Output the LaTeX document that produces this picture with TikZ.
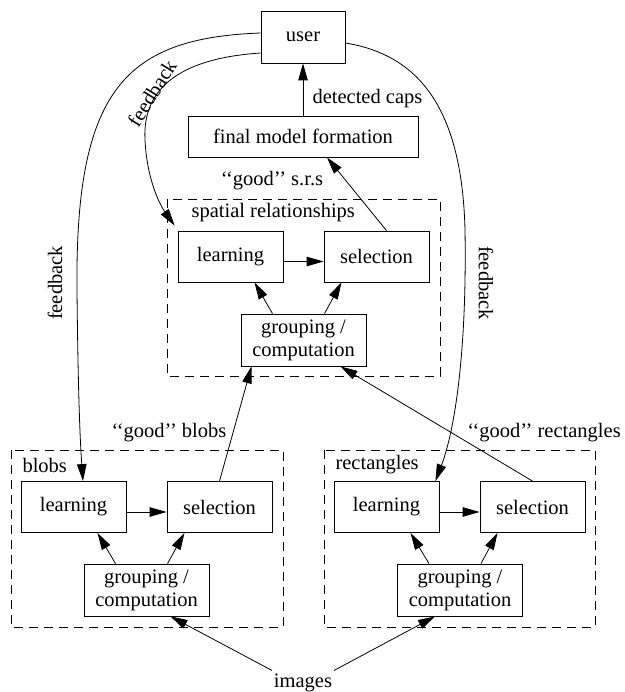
\documentclass[tikz,border=0pt]{standalone}
\usepackage{fontspec}
\setmainfont{Liberation Serif}
\usetikzlibrary{arrows.meta}

\begin{document}
\begin{tikzpicture}[x=1pt,y=-1pt,
  every node/.style={font=\fontsize{20.5}{23}\selectfont},
  box/.style={draw,line width=0.8pt,minimum width=105pt,minimum height=51pt,inner sep=0pt},
  grpbox/.style={draw,line width=0.8pt,minimum width=125pt,minimum height=52pt,inner sep=0pt,align=center},
  frame/.style={draw,dash pattern=on 9pt off 6pt,line width=0.7pt},
  arr/.style={-{Triangle[length=17pt,width=9.5pt]},line width=0.8pt}]
\useasboundingbox (0,0) rectangle (624,692);
% top
\node[draw,line width=0.8pt,minimum width=84pt,minimum height=52pt] (user) at (303,37) {user};
\node[draw,line width=0.8pt,minimum width=230pt,minimum height=41pt] (fmf) at (303,136.5) {final model formation};
\draw[arr] (fmf.north) -- (user.south);
\node[anchor=west] (caps) at (309,99) {detected caps};
% spatial relationships
\draw[frame] (167,199) rectangle (440,376);
\node[anchor=west] (srlab) at (188,213) {spatial relationships};
\node[box] (slearn) at (230.5,256.5) {learning};
\node[box] (ssel) at (376.5,256.5) {selection};
\node[grpbox] (sgrp) at (303.5,340) {grouping /\\computation};
\draw[arr] ([yshift=-5pt]slearn.east) -- ([yshift=-5pt]ssel.west);
\draw[arr] ([xshift=-31pt]sgrp.north) -- ([xshift=24pt]slearn.south);
\draw[arr] ([xshift=21pt]sgrp.north) -- ([xshift=-35pt]ssel.south);
\draw[arr] ([xshift=10pt]ssel.north) -- ([xshift=24pt]fmf.south);
\node (goodsrs) at (272,181) {`{}`good'{}' s.r.s};
% blobs
\draw[frame] (11,450) rectangle (283,627);
\node[anchor=west] (blab) at (19,465) {blobs};
\node[box] (blearn) at (73.5,507) {learning};
\node[box] (bsel) at (219.5,507) {selection};
\node[grpbox] (bgrp) at (146.5,590) {grouping /\\computation};
\draw[arr] ([yshift=-5pt]blearn.east) -- ([yshift=-5pt]bsel.west);
\draw[arr] ([xshift=-31pt]bgrp.north) -- ([xshift=24pt]blearn.south);
\draw[arr] ([xshift=21pt]bgrp.north) -- ([xshift=-35pt]bsel.south);
\draw[arr] (bsel.north) -- ([xshift=-52pt]sgrp.south);
\node (goodblobs) at (169,433) {`{}`good'{}' blobs};
% rectangles
\draw[frame] (324,450) rectangle (595,627);
\node[anchor=west] (rlab) at (332,465) {rectangles};
\node[box] (rlearn) at (386.5,507) {learning};
\node[box] (rsel) at (532.5,507) {selection};
\node[grpbox] (rgrp) at (460,590) {grouping /\\computation};
\draw[arr] ([yshift=-5pt]rlearn.east) -- ([yshift=-5pt]rsel.west);
\draw[arr] ([xshift=-31pt]rgrp.north) -- ([xshift=24pt]rlearn.south);
\draw[arr] ([xshift=21pt]rgrp.north) -- ([xshift=-35pt]rsel.south);
\draw[arr] (rsel.north) -- ([xshift=37pt]sgrp.south);
\node (goodrects) at (544,433) {`{}`good'{}' rectangles};
% images
\node (images) at (303,683) {images};
\draw[arr] ([xshift=-31pt]images.north) -- ([xshift=24pt]bgrp.south);
\draw[arr] ([xshift=31pt]images.north) -- ([xshift=-25pt]rgrp.south);
% feedback
\draw[arr] ([yshift=4pt]user.west) .. controls (125,38) and (75,90) .. (77,290) .. controls (78,390) and (80,440) .. ([xshift=9.5pt]blearn.north);
\draw[arr] ([yshift=-16pt]user.west) .. controls (185,58) and (142,85) .. (145,140) .. controls (147,180) and (160,205) .. ([xshift=-3pt,yshift=5pt]slearn.north west);
\draw[arr] ([yshift=-6pt]user.east) .. controls (420,55) and (462,110) .. (465,230) .. controls (467,350) and (455,430) .. ([xshift=-4pt]rlearn.north east);
\node[rotate=90] (fbl) at (55,283) {feedback};
\node[rotate=-90] (fbr) at (486,283) {feedback};
\node[rotate=58] (fbm) at (152,93) {feedback};
\end{tikzpicture}
\end{document}
